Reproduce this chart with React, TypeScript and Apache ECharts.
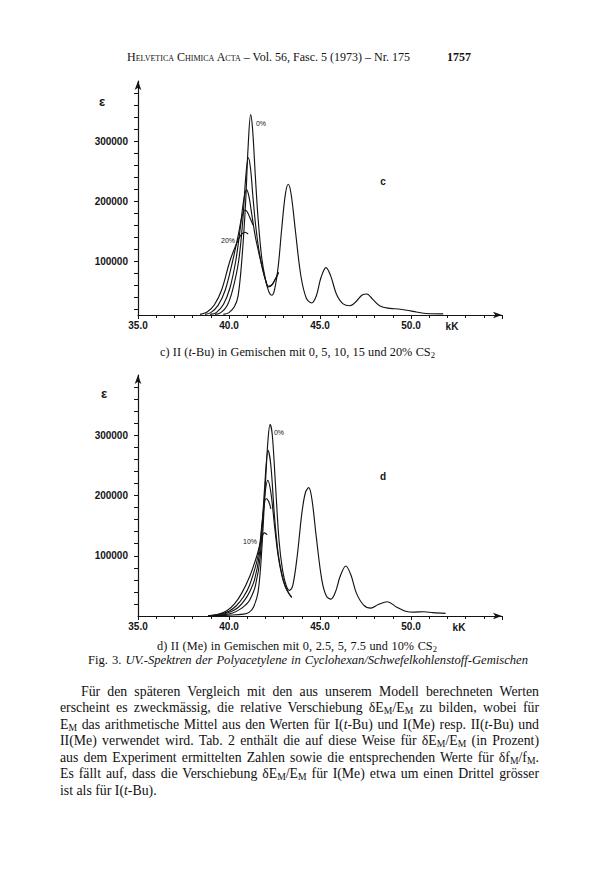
import React, { useEffect, useRef } from "react";
import * as echarts from "echarts";

// ---------- Chart c: II (t-Bu) in mixtures with 0, 5, 10, 15, 20 % CS2 ----------
const cNames = ["0%", "5%", "10%", "15%", "20%"];
const c0K = [39.69, 40.0, 40.3, 40.5, 40.7, 40.9, 41.05, 41.19, 41.3, 41.45, 41.6, 41.8, 42.0, 42.2, 42.35, 42.5, 42.7, 42.9, 43.1, 43.26, 43.42, 43.65, 43.95, 44.25, 44.54, 44.8, 45.05, 45.33, 45.6, 45.9, 46.25, 46.65, 47.0, 47.3, 47.57, 47.9, 48.3, 48.85, 49.3, 49.76, 50.3, 50.86, 51.77];
const c0V = [11000, 14000, 24000, 42000, 100000, 190000, 290000, 344000, 318000, 240000, 170000, 105000, 70000, 48000, 43000, 52000, 90000, 155000, 212000, 228000, 210000, 150000, 75000, 38000, 30000, 42000, 72000, 89000, 74000, 45000, 29000, 25500, 33000, 43000, 45000, 36000, 25000, 21000, 20000, 18000, 15000, 12500, 12000];
const c5K = [39.23, 39.55, 39.9, 40.2, 40.53, 40.75, 40.92, 41.06, 41.18, 41.32, 41.48, 41.65, 41.85, 42.0, 42.16, 42.35, 42.55, 42.72];
const c5V = [11000, 14000, 26000, 52000, 100000, 165000, 240000, 272000, 255000, 205000, 155000, 117000, 86000, 69000, 57000, 60000, 70000, 81000];
const c10K = [38.96, 39.3, 39.7, 40.05, 40.37, 40.6, 40.8, 40.97, 41.1, 41.25, 41.45, 41.65, 41.85, 42.0, 42.16, 42.35, 42.55, 42.72];
const c10V = [11000, 14000, 28000, 55000, 100000, 150000, 200000, 219000, 207000, 178000, 140000, 112000, 86000, 69000, 58000, 60000, 70000, 81000];
const c15K = [38.68, 39.0, 39.4, 39.8, 40.2, 40.5, 40.72, 40.88, 41.0, 41.15, 41.32];
const c15V = [11000, 14000, 26000, 52000, 100000, 142000, 175000, 185000, 182000, 172000, 160000];
const c20K = [38.41, 38.8, 39.2, 39.6, 40.05, 40.4, 40.65, 40.88, 41.05];
const c20V = [11000, 15000, 27000, 52000, 100000, 128000, 143000, 148000, 145000];

// ---------- Chart d: II (Me) in mixtures with 0, 2.5, 5, 7.5, 10 % CS2 ----------
const dNames = ["0%", "2.5%", "5%", "7.5%", "10%"];
const d0K = [38.85, 40.0, 40.8, 41.1, 41.35, 41.6, 41.8, 42.0, 42.15, 42.26, 42.38, 42.55, 42.75, 42.95, 43.15, 43.32, 43.5, 43.75, 44.0, 44.2, 44.38, 44.55, 44.8, 45.1, 45.35, 45.6, 45.85, 46.1, 46.42, 46.7, 47.0, 47.4, 47.79, 48.2, 48.7, 49.2, 49.7, 50.2, 50.7, 51.2, 51.9];
const d0V = [500, 1500, 3000, 6000, 15000, 40000, 110000, 220000, 295000, 318000, 300000, 220000, 125000, 75000, 50000, 42500, 50000, 100000, 170000, 205000, 213000, 195000, 130000, 60000, 33000, 28000, 40000, 65000, 83000, 68000, 38000, 18000, 13000, 19000, 23600, 15000, 8000, 6500, 7000, 5500, 4300];
const d25K = [39.0, 39.7, 40.2, 40.6, 40.9, 41.13, 41.45, 41.72, 41.95, 42.15, 42.3, 42.5, 42.7, 42.9, 43.1, 43.3, 43.45];
const d25V = [500, 2000, 5000, 11000, 18000, 26000, 50000, 100000, 210000, 275000, 250000, 165000, 104000, 70000, 49000, 37000, 31000];
const d5K = [38.95, 39.6, 40.1, 40.5, 40.85, 41.13, 41.4, 41.66, 41.9, 42.13, 42.3, 42.5, 42.7, 42.9, 43.1, 43.3, 43.45];
const d5V = [500, 2500, 7000, 14000, 26000, 40000, 60000, 100000, 180000, 225000, 205000, 150000, 100000, 68000, 48000, 37000, 31000];
const d75K = [38.9, 39.5, 40.0, 40.4, 40.8, 41.13, 41.6, 41.85, 42.04, 42.18, 42.3];
const d75V = [500, 3000, 8000, 17000, 32000, 51000, 100000, 162000, 195000, 190000, 178000];
const d10K = [38.85, 39.4, 39.9, 40.3, 40.7, 41.13, 41.53, 41.8, 41.95, 42.1];
const d10V = [500, 3000, 9000, 20000, 38000, 65000, 100000, 130000, 138000, 135000];

// ---------- Axes ----------
const xMin = 35;
const xMax = 55;
const xStep = 5;
const cYMin = 10000; // chart c: the drawn abscissa sits a little above ε = 0
const dYMin = 0;
const yMax = 400000;
const yTickValues = [20000, 40000, 60000, 80000, 100000, 120000, 140000, 160000, 180000, 200000, 220000, 240000, 260000, 280000, 300000, 320000, 340000, 360000, 380000];
const yLabelValues = [100000, 200000, 300000];

const INK = "#141414";
const AXIS_FONT = "'Liberation Sans Narrow', 'Liberation Sans', Arial, sans-serif";
const SERIF = "'Liberation Serif', 'Times New Roman', serif";

const pairs = (ks: number[], vs: number[]) => ks.map((k, i) => [k, vs[i]]);

function axesFor(gridIndex: number, yMin: number) {
  const line = {
    show: true,
    onZero: false,
    symbol: ["none", "arrow"],
    symbolSize: [5, 9],
    lineStyle: { color: INK, width: 1.2 },
  };
  const x = {
    type: "value",
    gridIndex,
    min: xMin,
    max: xMax,
    interval: xStep,
    axisLine: line,
    axisTick: { show: true, length: 4, lineStyle: { color: INK, width: 1 } },
    minorTick: { show: true, splitNumber: 5, length: 3, lineStyle: { color: INK, width: 1 } },
    splitLine: { show: false },
    minorSplitLine: { show: false },
    axisLabel: {
      formatter: (v: number) => (v >= xMax ? "" : v.toFixed(1)),
      fontSize: 10,
      fontWeight: "bold",
      fontFamily: AXIS_FONT,
      color: INK,
      margin: 5,
    },
  };
  const y = {
    type: "value",
    gridIndex,
    min: yMin,
    max: yMax,
    axisLine: line,
    axisTick: { show: true, length: 4, customValues: yTickValues, lineStyle: { color: INK, width: 1 } },
    splitLine: { show: false },
    axisLabel: {
      customValues: yLabelValues,
      formatter: (v: number) => String(v),
      fontSize: 10,
      fontWeight: "bold",
      fontFamily: AXIS_FONT,
      color: INK,
      margin: 10,
    },
  };
  return { x, y };
}

function lineSeries(name: string, data: number[][], idx: number) {
  return {
    type: "line",
    name,
    data,
    xAxisIndex: idx,
    yAxisIndex: idx,
    showSymbol: false,
    symbol: "none",
    smooth: 0.35,
    lineStyle: { color: INK, width: 1.15 },
    silent: true,
  };
}

function txt(text: string, x: number, y: number, size: number, bold = false, align = "center") {
  return {
    type: "text",
    x,
    y,
    silent: true,
    style: {
      text,
      fontSize: size,
      fontWeight: bold ? "bold" : "normal",
      fontFamily: AXIS_FONT,
      fill: INK,
      align,
      verticalAlign: "middle",
    },
  };
}

function Line(props: {
  x: number;
  y: number;
  w: number;
  size: number;
  justify?: boolean;
  italic?: boolean;
  spacing?: number;
  children: React.ReactNode;
}) {
  const lh = props.size * 1.2;
  return (
    <div
      style={{
        position: "absolute",
        left: props.x,
        top: props.y - lh / 2,
        width: props.w,
        height: lh,
        lineHeight: lh + "px",
        fontSize: props.size,
        fontFamily: SERIF,
        fontStyle: props.italic ? "italic" : "normal",
        letterSpacing: props.spacing ? props.spacing + "px" : "normal",
        color: "#111",
        whiteSpace: "nowrap",
        textAlign: props.justify === false ? "left" : "justify",
        textAlignLast: props.justify === false ? "left" : "justify",
      } as React.CSSProperties}
    >
      {props.children}
    </div>
  );
}

const sub = (s: string) => <sub style={{ fontSize: "0.7em", verticalAlign: "-0.25em", lineHeight: 0 }}>{s}</sub>;

export default function App() {
  const ref = useRef<HTMLDivElement>(null);

  useEffect(() => {
    if (!ref.current) return;
    const chart = echarts.init(ref.current, undefined, { renderer: "svg" });
    const a0 = axesFor(0, cYMin);
    const a1 = axesFor(1, dYMin);
    const cData = [pairs(c0K, c0V), pairs(c5K, c5V), pairs(c10K, c10V), pairs(c15K, c15V), pairs(c20K, c20V)];
    const dData = [pairs(d0K, d0V), pairs(d25K, d25V), pairs(d5K, d5V), pairs(d75K, d75V), pairs(d10K, d10V)];
    chart.setOption({
      animation: false,
      backgroundColor: "transparent",
      grid: [
        { left: 138, top: 81, width: 364, height: 234 },
        { left: 138, top: 375, width: 364, height: 241 },
      ],
      xAxis: [a0.x, a1.x],
      yAxis: [a0.y, a1.y],
      series: [
        ...cData.map((d, i) => lineSeries("c " + cNames[i], d, 0)),
        ...dData.map((d, i) => lineSeries("d " + dNames[i], d, 1)),
      ],
      graphic: [
        txt("ε", 102, 101, 13, true),
        txt("0%", 261, 123, 7),
        txt("20%", 228, 240, 7),
        txt("c", 383, 181, 10, true),
        txt("kK", 452, 326, 10, true),
        txt("ε", 104, 393, 13, true),
        txt("0%", 279, 432, 7),
        txt("10%", 250, 541, 7),
        txt("d", 383, 476, 10, true),
        txt("kK", 459, 627, 10, true),
      ],
    });
    return () => chart.dispose();
  }, []);

  return (
    <div style={{ position: "absolute", left: 0, top: 0, width: 600, height: 888, background: "#fff", overflow: "hidden" }}>
      <div ref={ref} style={{ position: "absolute", left: 0, top: 0, width: 600, height: 888 }} />
      <Line x={127} y={57} w={265} size={12}>
        <span style={{ fontVariant: "small-caps" }}>Helvetica Chimica Acta</span> – Vol. 56, Fasc. 5 (1973) – Nr. 175
      </Line>
      <Line x={447} y={57} w={22} size={12} justify={false}>
        <b>1757</b>
      </Line>
      <Line x={160} y={352} w={275} size={12.3}>
        c) II (<i>t</i>-Bu) in Gemischen mit 0, 5, 10, 15 und 20% CS{sub("2")}
      </Line>
      <Line x={157} y={646} w={280} size={12.3}>
        d) II (Me) in Gemischen mit 0, 2.5, 5, 7.5 und 10% CS{sub("2")}
      </Line>
      <Line x={88} y={661} w={440} size={12.6}>
        Fig. 3. <i>UV.-Spektren der Polyacetylene in Cyclohexan/Schwefelkohlenstoff-Gemischen</i>
      </Line>
      <Line x={81} y={692} w={458} size={13.8}>
        Für den späteren Vergleich mit den aus unserem Modell berechneten Werten
      </Line>
      <Line x={60} y={708.5} w={479} size={13.8}>
        erscheint es zweckmässig, die relative Verschiebung δE{sub("M")}/E{sub("M")} zu bilden, wobei für
      </Line>
      <Line x={60} y={725} w={479} size={13.8}>
        E{sub("M")} das arithmetische Mittel aus den Werten für I(<i>t</i>-Bu) und I(Me) resp. II(<i>t</i>-Bu) und
      </Line>
      <Line x={60} y={741.5} w={479} size={13.8}>
        II(Me) verwendet wird. Tab. 2 enthält die auf diese Weise für δE{sub("M")}/E{sub("M")} (in Prozent)
      </Line>
      <Line x={60} y={758} w={479} size={13.8}>
        aus dem Experiment ermittelten Zahlen sowie die entsprechenden Werte für δf{sub("M")}/f{sub("M")}.
      </Line>
      <Line x={60} y={774.5} w={479} size={13.8}>
        Es fällt auf, dass die Verschiebung δE{sub("M")}/E{sub("M")} für I(Me) etwa um einen Drittel grösser
      </Line>
      <Line x={60} y={791} w={479} size={13.8} justify={false}>
        ist als für I(<i>t</i>-Bu).
      </Line>
    </div>
  );
}
